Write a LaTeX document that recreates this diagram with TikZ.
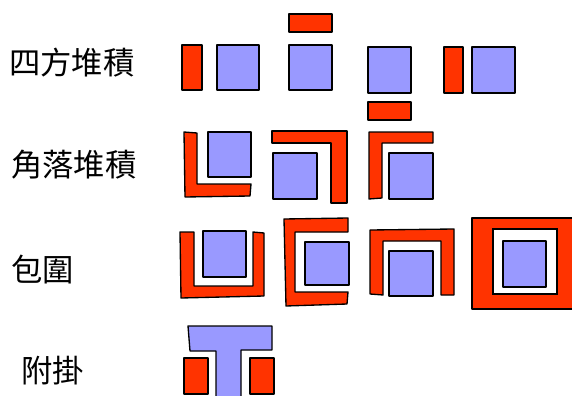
\documentclass[tikz,border=0pt]{standalone}
\usepackage{fontspec}
\newfontfamily\cjk{Noto Sans CJK TC}
\definecolor{partred}{RGB}{255,51,0}
\definecolor{partblue}{RGB}{153,153,255}
\begin{document}
\begin{tikzpicture}[x=0.75pt,y=0.75pt,yscale=-1,xscale=1,
  redpart/.style={draw=black,fill=partred,line width=1pt,line join=round},
  bluepart/.style={draw=black,fill=partblue,line width=1pt,line join=round},
  label/.style={anchor=west,inner sep=0pt,font=\cjk\fontsize{23.5}{28}\selectfont}]
\useasboundingbox (0,0) rectangle (572,396);
\clip (0,0) rectangle (572,396);

% Text Node
\node[label] (stack) at (9,63) {四方堆積};
% Text Node
\node[label] (corner) at (11,165) {角落堆積};
% Text Node
\node[label] (wrap) at (11,270) {包圍};
% Text Node
\node[label] (hang) at (21,371) {附掛};

%Row 1: side by side
\draw[redpart] (182,45) rectangle (202,90);
\draw[bluepart] (217,45) rectangle (259,90);
\draw[redpart] (289,14) rectangle (332,32);
\draw[bluepart] (289,45) rectangle (332,90);
\draw[bluepart] (368,47) rectangle (411,93);
\draw[redpart] (368,102) rectangle (411,120);
\draw[redpart] (444,47) rectangle (463,93);
\draw[bluepart] (472,47) rectangle (515,93);

%Row 2: corner pieces
\draw[redpart] (184,132) -- (197,133) -- (197,184) -- (251,184) -- (250,196) -- (185,197) -- cycle;
\draw[bluepart] (208,132) rectangle (251,177);
\draw[redpart] (272,131) -- (347,131) -- (347,203) -- (331,203) -- (331,143) -- (272,143) -- cycle;
\draw[bluepart] (273,153) rectangle (317,199);
\draw[redpart] (369,132) -- (433,132) -- (433,143) -- (382,143) -- (382,198) -- (369,199) -- cycle;
\draw[bluepart] (389,153) rectangle (433,199);

%Row 3: wrapped pieces
\draw[redpart] (180,232) -- (194,232) -- (194,286) -- (253,286) -- (253,232) -- (264,233) -- (264,296) -- (181,298) -- cycle;
\draw[bluepart] (203,231) rectangle (246,277);
\draw[redpart] (284,219) -- (348,218) -- (348,232) -- (295,232) -- (295,292) -- (348,292) -- (347,304) -- (286,306) -- cycle;
\draw[bluepart] (305,242) rectangle (349,285);
\draw[redpart] (370,230) -- (454,229) -- (454,295) -- (441,295) -- (441,241) -- (383,241) -- (383,295) -- (370,294) -- cycle;
\draw[bluepart] (389,251) rectangle (433,296);
\draw[redpart] (472,218) rectangle (578,309);
\draw[draw=black,fill=white,line width=1pt] (493,229) rectangle (557,294);
\draw[bluepart] (503,241) rectangle (546,287);

%Row 4: hanging piece
\draw[bluepart] (216,402) -- (216,351) -- (190,351) -- (188,326) -- (272,326) -- (272,350) -- (241,350) -- (241,402) -- cycle;
\draw[redpart] (184,358) rectangle (208,394);
\draw[redpart] (250,358) rectangle (274,394);

\end{tikzpicture}
\end{document}
